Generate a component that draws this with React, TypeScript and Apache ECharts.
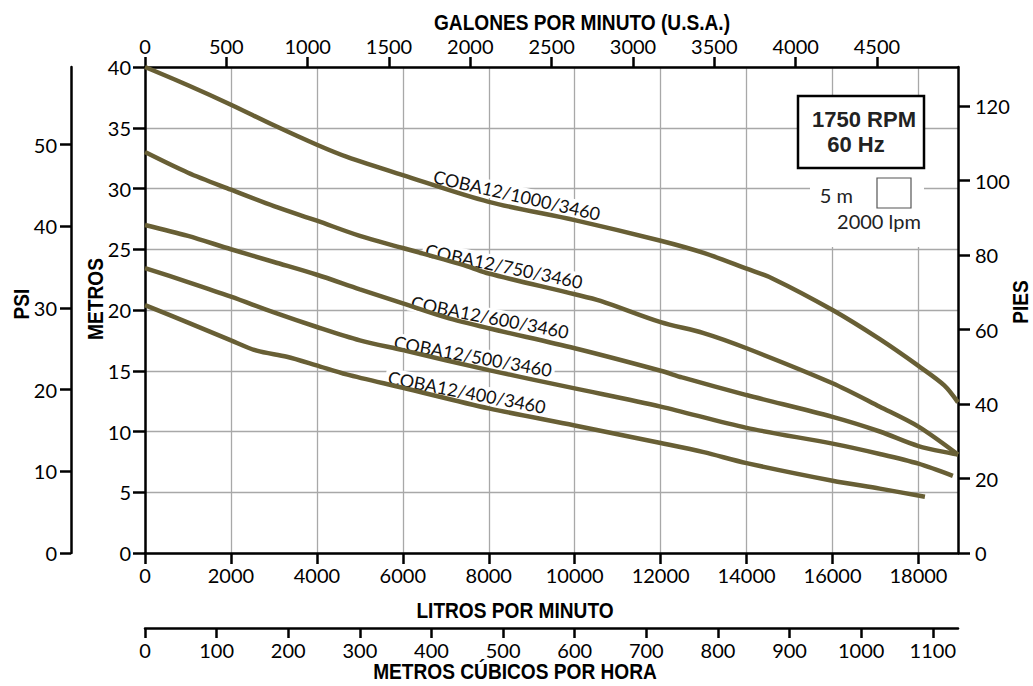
import React, { useEffect, useRef } from "react";
import * as echarts from "echarts";

// ---- axis ranges / conversions ----
const LPM_MAX = 18920;
const LPM_PER_GPM = 3.78541;
const M3H_PER_LPM = 0.06;
const M_MAX = 40;
const PSI_MAX = 59.5;
const FT_MAX = 130.5;

// ---- tick labels ----
const LPM_TICKS = [0, 2000, 4000, 6000, 8000, 10000, 12000, 14000, 16000, 18000];
const GPM_TICKS = [0, 500, 1000, 1500, 2000, 2500, 3000, 3500, 4000, 4500];
const M3H_TICKS = [0, 100, 200, 300, 400, 500, 600, 700, 800, 900, 1000, 1100];
const M_TICKS = [0, 5, 10, 15, 20, 25, 30, 35, 40];
const PSI_TICKS = [0, 10, 20, 30, 40, 50];
const FT_TICKS = [0, 20, 40, 60, 80, 100, 120];

// ---- curves (flow in L/min, head in m) ----
const MODELS = ["COBA12/1000/3460", "COBA12/750/3460", "COBA12/600/3460", "COBA12/500/3460", "COBA12/400/3460"];

const FLOW_1000 = [0, 1000, 2000, 3000, 4000, 4700, 6000, 8000, 10000, 12000, 13000, 14000, 14600, 16000, 17100, 18000, 18600, 18920];
const HEAD_1000 = [40.0, 38.5, 36.9, 35.2, 33.6, 32.6, 31.1, 28.9, 27.4, 25.7, 24.7, 23.4, 22.6, 20.0, 17.6, 15.4, 13.8, 12.4];

const FLOW_750 = [0, 1000, 2000, 3000, 4000, 5000, 6000, 7500, 8000, 10000, 10600, 12000, 13000, 14000, 16000, 17100, 18000, 18920];
const HEAD_750 = [33.0, 31.3, 29.9, 28.55, 27.35, 26.1, 25.1, 23.6, 23.0, 21.3, 20.75, 19.0, 18.1, 16.85, 13.97, 12.04, 10.4, 8.1];

const FLOW_600 = [0, 1000, 2000, 3000, 4000, 5000, 6000, 7000, 8000, 10000, 12000, 12500, 14000, 16000, 17100, 18000, 18920];
const HEAD_600 = [27.0, 26.1, 25.0, 23.95, 22.9, 21.7, 20.55, 19.4, 18.5, 16.85, 15.0, 14.45, 13.0, 11.2, 10.0, 8.8, 8.1];

const FLOW_500 = [0, 1000, 2000, 3000, 4000, 5000, 6000, 8000, 10000, 12000, 14000, 16000, 17100, 18000, 18800];
const HEAD_500 = [23.45, 22.3, 21.1, 19.8, 18.6, 17.5, 16.7, 15.05, 13.55, 12.05, 10.3, 9.0, 8.15, 7.35, 6.35];

const FLOW_400 = [0, 1045, 2000, 2600, 3300, 3970, 4690, 6000, 8000, 10000, 12000, 13000, 14000, 16000, 17100, 18150];
const HEAD_400 = [20.4, 18.9, 17.5, 16.65, 16.15, 15.47, 14.7, 13.6, 11.9, 10.5, 9.05, 8.3, 7.4, 5.95, 5.3, 4.63];

const FLOWS = [FLOW_1000, FLOW_750, FLOW_600, FLOW_500, FLOW_400];
const HEADS = [HEAD_1000, HEAD_750, HEAD_600, HEAD_500, HEAD_400];

const FONT = "Lato, 'Open Sans', sans-serif";
const BOLD = "'Liberation Sans', Arial, sans-serif";
const CURVE_COLOR = "#685f35";
const GRID_COLOR = "#a8a8a8";

function axisCommon(ticks: number[], tickLen: number, margin: number) {
  return {
    type: "value" as const,
    axisLine: { show: true, onZero: false, lineStyle: { color: "#000", width: 2.5 } },
    axisTick: { show: true, length: tickLen, customValues: ticks, lineStyle: { color: "#000", width: 2.5 } },
    axisLabel: {
      show: true,
      customValues: ticks,
      color: "#000",
      fontFamily: FONT,
      fontSize: 20,
      margin,
      formatter: (v: number) => String(v),
    },
    splitLine: { show: false },
  };
}

export default function App() {
  const ref = useRef<HTMLDivElement>(null);

  useEffect(() => {
    if (!ref.current) return;
    const chart = echarts.init(ref.current, undefined, { renderer: "svg" });

    const labelPos = [
      { x: 517, y: 195, r: 12.9 },
      { x: 504, y: 266, r: 11.7 },
      { x: 490, y: 317, r: 10.9 },
      { x: 473, y: 356, r: 10.3 },
      { x: 467, y: 392, r: 10.9 },
    ];

    const title = (text: string, x: number, y: number, rot = 0) => ({
      type: "text",
      x,
      y,
      rotation: rot,
      scaleX: 0.85,
      z: 5,
      style: {
        text,
        fontFamily: BOLD,
        fontWeight: "bold",
        fontSize: 22.5,
        fill: "#000",
        align: "center",
        verticalAlign: "middle",
      },
    });

    const option: any = {
      animation: false,
      backgroundColor: "#ffffff",
      grid: { left: 145, top: 67, width: 813, height: 486, containLabel: false },
      xAxis: [
        {
          ...axisCommon(LPM_TICKS, 11, 12),
          position: "bottom",
          min: 0,
          max: LPM_MAX,
          splitLine: { show: true, lineStyle: { color: GRID_COLOR, width: 1.3 } },
        },
        {
          ...axisCommon(GPM_TICKS, 10, 11),
          position: "top",
          min: 0,
          max: LPM_MAX / LPM_PER_GPM,
        },
        {
          ...axisCommon(M3H_TICKS, 10, 12),
          position: "bottom",
          offset: 75,
          min: 0,
          max: LPM_MAX * M3H_PER_LPM,
        },
      ],
      yAxis: [
        {
          ...axisCommon(M_TICKS, 12, 14),
          position: "left",
          min: 0,
          max: M_MAX,
          splitLine: { show: true, lineStyle: { color: GRID_COLOR, width: 1.3 } },
        },
        {
          ...axisCommon(PSI_TICKS, 11, 14),
          position: "left",
          offset: 74,
          min: 0,
          max: PSI_MAX,
        },
        {
          ...axisCommon(FT_TICKS, 12, 17),
          position: "right",
          min: 0,
          max: FT_MAX,
        },
      ],
      series: MODELS.map((name, i) => ({
        name,
        type: "line",
        xAxisIndex: 0,
        yAxisIndex: 0,
        symbol: "none",
        showSymbol: false,
        smooth: 0.3,
        z: 3,
        lineStyle: { color: CURVE_COLOR, width: 4.5, cap: "butt" },
        data: FLOWS[i].map((f, k) => [f, HEADS[i][k]]),
      })),
      graphic: [
        // curve labels
        ...MODELS.map((name, i) => ({
          type: "text",
          x: labelPos[i].x,
          y: labelPos[i].y,
          rotation: (-labelPos[i].r * Math.PI) / 180,
          z: 1,
          style: {
            text: name,
            fontFamily: FONT,
            fontSize: 18,
            fill: "#111",
            align: "center",
            verticalAlign: "middle",
            backgroundColor: "#fff",
            padding: [0, 3],
          },
        })),
        // axis titles
        title("GALONES POR MINUTO (U.S.A.)", 582, 22),
        title("LITROS POR MINUTO", 515, 610),
        title("METROS CÚBICOS POR HORA", 515, 671),
        title("METROS", 95, 299, Math.PI / 2),
        title("PSI", 21, 304, Math.PI / 2),
        title("PIES", 1020, 302, Math.PI / 2),
        // RPM box
        {
          type: "rect",
          z: 6,
          shape: { x: 798, y: 96, width: 126, height: 72 },
          style: { fill: "#fff", stroke: "#000", lineWidth: 2.5 },
        },
        {
          type: "text",
          x: 864,
          y: 119,
          z: 7,
          style: { text: "1750 RPM", fontFamily: BOLD, fontWeight: "bold", fontSize: 22, fill: "#222", align: "center", verticalAlign: "middle" },
        },
        {
          type: "text",
          x: 856,
          y: 144,
          z: 7,
          style: { text: "60 Hz", fontFamily: BOLD, fontWeight: "bold", fontSize: 22, fill: "#222", align: "center", verticalAlign: "middle" },
        },
        // scale legend
        {
          type: "rect",
          z: 1,
          shape: { x: 810, y: 169, width: 114, height: 78 },
          style: { fill: "#fff", stroke: null },
        },
        {
          type: "rect",
          z: 6,
          shape: { x: 877, y: 178, width: 34, height: 30 },
          style: { fill: "#fff", stroke: "#555", lineWidth: 1.2 },
        },
        {
          type: "text",
          x: 853,
          y: 195,
          z: 6,
          style: { text: "5 m", fontFamily: FONT, fontSize: 20, fill: "#222", align: "right", verticalAlign: "middle" },
        },
        {
          type: "text",
          x: 879,
          y: 221,
          z: 6,
          style: { text: "2000 lpm", fontFamily: FONT, fontSize: 20, fill: "#222", align: "center", verticalAlign: "middle" },
        },
      ],
    };

    chart.setOption(option);
    return () => chart.dispose();
  }, []);

  return (
    <div
      ref={ref}
      style={{ position: "fixed", left: 0, top: 0, width: 1033, height: 686, background: "#fff" }}
    />
  );
}
